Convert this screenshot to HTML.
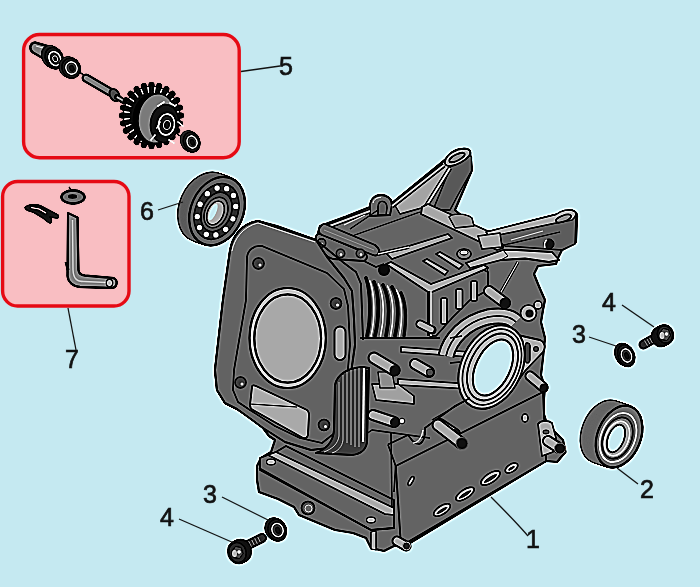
<!DOCTYPE html>
<html><head><meta charset="utf-8">
<style>
html,body{margin:0;padding:0;width:700px;height:587px;overflow:hidden;background:#c5e9f1;}
svg{display:block;position:absolute;left:0;top:0;}
text{font-family:"Liberation Sans",sans-serif;font-size:25px;fill:#111;stroke:#111;stroke-width:0.7px;}
</style></head><body>
<svg width="700" height="587" viewBox="0 0 700 587">

<defs><filter id="sh" x="-20" y="-20" width="740" height="627" filterUnits="userSpaceOnUse" color-interpolation-filters="sRGB"><feGaussianBlur in="SourceGraphic" stdDeviation="0.9" result="b"/><feComposite in="SourceGraphic" in2="b" operator="arithmetic" k1="0" k2="2.4" k3="-1.4" k4="0"/></filter></defs><g filter="url(#sh)"><rect x="-20" y="-20" width="740" height="627" fill="#c5e9f1"/><!-- ENGINE -->
<g id="engine" stroke-linejoin="round">
<path fill="#646464" stroke="#000" stroke-width="2.2" d="
M230 251 C232 238 240 224 258 221 L277 226 L316 240 L320 226 L346 216.5 L370 207 C371 200 375 195 381 195 C387 195 391 199 392 203 L447 158 C452 150 462 146 470 152 L472 170 L455 210
L462 216 L474 228 L488 232 L566 212 C572 208 578 212 577 218 L576 242 L562 250 L558 258 L556 264 L538 266 L534 274 L538 284 L541 291 L545 300 L543 310 L541 322 L545 338 L543 358 L541 375 L545 387 L543 411 L547 424 L555 432 L563 440 L565.5 452 L557 462 L546 461
L405 546 L394 546 L384 551 L371 548 L366 538 L353 533 L335 530 L299 515 L294 507 L278 499 L259 492 L257 480 L257 466 L261 458 L271 452 L275 440 L269 436 L263 428 L253 419 L237 409 L225 403 L217 390 L215 370 L223 300 Z"/>
<!-- top section -->
<g id="etop" stroke-linejoin="round">
<!-- top arm right face -->
<path fill="#585858" stroke="#000" stroke-width="1.4" d="M451 166 L467 153 L471.5 157 L471.5 171 L458 195 L450 210 L433 210 Z"/>
<!-- top arm web (light) -->
<path fill="#a3a3a3" stroke="#000" stroke-width="1.4" d="M393 202 L446 160 L450 168 L425 207 L400 214 Z"/>
<!-- rib -->
<path d="M450 168 L425 208" stroke="#000" stroke-width="4.5" fill="none"/>
<path d="M450 168 L425 208" stroke="#b8b8b8" stroke-width="2" fill="none"/>
<!-- tip top face -->
<path fill="#a0a0a0" stroke="#000" stroke-width="1.8" d="M445 161 C447 154 456 149 464 148.5 C470 148.5 472 152 469 156 C465 161 457 165 451 166 C446 166.5 444 164 445 161 Z"/>
<ellipse cx="457" cy="157.5" rx="8.5" ry="3" transform="rotate(-27 457 157.5)" fill="#8a8a8a" stroke="#000" stroke-width="1.7"/>
<!-- boss -->
<path fill="#646464" stroke="#000" stroke-width="1.8" d="M370 216 L370 206 C370 199 375 195 381 195 C387 195 392 199 392 205 L390 215 Z"/>
<path fill="#5a5a5a" stroke="#000" stroke-width="1.4" d="M378 215 L378 207 C378 203 380 201 383 201.5 C386 202 387 205 387 208 L386 215 Z"/>
<path d="M373 203 C374 199 377 197.5 381 197.5" stroke="#ccc" stroke-width="1" fill="none"/>
<!-- rail along top edge -->
<path d="M320 229.5 L370 211 M392 206 L444 165" stroke="#000" stroke-width="5" fill="none"/>
<path d="M320 229.5 L370 211 M392 206 L444 165" stroke="#a0a0a0" stroke-width="2" fill="none"/>
<!-- top plate faint lines -->
<path d="M350 229 L378 210 M352 236 L420 212" stroke="#000" stroke-width="1.2" fill="none"/>
<!-- cross bar light (upper) -->
<path fill="#a6a6a6" stroke="#000" stroke-width="1.8" d="M422 207 L428 204 L503 238 L503 248 L497 250 L421 214 Z"/>
<!-- right arm -->
<path fill="#5c5c5c" stroke="#000" stroke-width="1.4" d="M488 233 L556 216 L570 212 L576 216 L575 244 L562 250 L505 246 Z"/>
<path fill="#a9a9a9" stroke="#000" stroke-width="1.5" d="M486 232 L556 214.5 C561 210.5 569 208.5 574 211 C577 213 576 217 572 220 L556 223 L489 237 Z"/>
<ellipse cx="563.5" cy="218.5" rx="8" ry="3" transform="rotate(-20 563.5 218.5)" fill="#8a8a8a" stroke="#000" stroke-width="1.6"/>
<path d="M511 240 L543 231" stroke="#b8b8b8" stroke-width="1.2" fill="none"/>
<path d="M504 245 L560 232" stroke="#000" stroke-width="1.2" fill="none"/>
<circle cx="549" cy="244" r="5" fill="#111" stroke="#000" stroke-width="1"/>
<path d="M545 248 C544 244 545 241 547 240" stroke="#e8e8e8" stroke-width="1.4" fill="none"/>
<!-- connecting boss between bars -->
<path fill="#8c8c8c" stroke="#000" stroke-width="1.4" d="M449 217 C452 213 466 213 472 218 L474 226 L455 228 Z"/>
<path fill="#a6a6a6" stroke="#000" stroke-width="1.5" d="M478 236 L500 233 L502 247 L482 249 Z"/>
<!-- lever -->
<path fill="#b0b0b0" stroke="#000" stroke-width="1.8" d="M466 263 L503 250 L517 250 L552 252 L559 260 L549 262 L525 258.5 L501 260 L470 268 Z"/>
<path d="M503 250 L508 256 L501 260" stroke="#000" stroke-width="1" fill="none"/>
<!-- struts below lever -->
<path d="M486 266 L487 281 M518 262 L501 292" stroke="#000" stroke-width="3" fill="none"/>
<path d="M486 266 L487 281 M518 262 L501 292" stroke="#b0b0b0" stroke-width="1.2" fill="none"/>
</g>
<!-- mid section: link bar, frame box, fins -->
<g id="emid" stroke-linejoin="round">
<!-- top plate lines -->
<path d="M344 225 L365 215" stroke="#bbb" stroke-width="1.2" fill="none"/>
<!-- back bar of frame -->
<path fill="#a0a0a0" stroke="#000" stroke-width="1.6" d="M386 253 L448 234 L452 238 L392 259 Z"/>
<!-- inner bars -->
<path fill="#a8a8a8" stroke="#000" stroke-width="1.5" d="M423 261 L427 259 L448 271 L445 275 Z"/>
<path fill="#a8a8a8" stroke="#000" stroke-width="1.5" d="M436 254 L440 252 L463 265 L459 269 Z"/>
<!-- nut on top -->
<ellipse cx="464" cy="254" rx="7" ry="5" fill="#777" stroke="#000" stroke-width="1.6"/>
<ellipse cx="464" cy="252.5" rx="4" ry="2.5" fill="#bbb" stroke="#000" stroke-width="1"/>
<!-- front face of frame box -->
<path fill="#636363" stroke="#000" stroke-width="1.6" d="M430 289 L484 270 L488 272 L488 290 L470 300 L452 318 L436 336 L430 336 Z"/>
<!-- front top bar (light) -->
<path fill="#a9a9a9" stroke="#000" stroke-width="1.8" d="M386 264 L391 262 L431 284 L484 265 L488 268 L432 292 L428 292 Z"/>
<path d="M431 290 L431 336" stroke="#b8b8b8" stroke-width="1.6" fill="none"/>
<path d="M428 292 L428 336" stroke="#000" stroke-width="1.6" fill="none"/>
<!-- slots -->
<g fill="#a8a8a8" stroke="#000" stroke-width="1.6">
<rect x="441" y="298" width="6" height="26" rx="2"/>
<rect x="456" y="289" width="6.5" height="20" rx="2"/>
<rect x="471" y="281" width="6" height="20" rx="2"/>
</g>
<!-- link bar with 3 holes -->
<path fill="#606060" stroke="#000" stroke-width="1.8" d="M316 240 C315 236 317 233 321 234 L363 252 C368 254 368 259 364 261 L333 259 C329 258 326 256 323 253 Z"/>
<path fill="#646464" stroke="#000" stroke-width="1.8" d="M321 226 C318 229 318 233 322 235 L373 255 C378 257 381 252 378 248 L375 245 L325 224 C323 223.5 322 224.5 321 226 Z"/>
<path d="M324 230 L374 250" stroke="#8a8a8a" stroke-width="1" fill="none"/>
<g fill="#505050" stroke="#000" stroke-width="1.5">
<circle cx="321.5" cy="243" r="4.2"/>
<circle cx="340.5" cy="253.5" r="4.2"/>
<circle cx="360.5" cy="253.5" r="4.2"/>
</g>
<g fill="#ddd"><circle cx="322" cy="244" r="1.2"/><circle cx="341" cy="254.5" r="1.2"/><circle cx="361" cy="254.5" r="1.2"/></g>
<path d="M364 261 L376 267 L384 264" stroke="#000" stroke-width="1.4" fill="none"/>
<!-- thin lever on top plate -->
<path d="M378 254 L409 247" stroke="#000" stroke-width="3.5" fill="none"/>
<path d="M378 254 L409 247" stroke="#b0b0b0" stroke-width="1.4" fill="none"/>
<!-- flange right side thickness lines -->
<path d="M316 240 L344 263 L356 272 L361 284 L363 340" stroke="#000" stroke-width="1.8" fill="none"/>
<!-- black nut -->
<circle cx="384" cy="270" r="6" fill="#0a0a0a"/>
<!-- fins -->
<g fill="none" stroke-linecap="round">
<path d="M366 278 C371 292 371 320 367 336" stroke="#000" stroke-width="3.6"/>
<path d="M374 282 C380 296 379 320 375 336" stroke="#000" stroke-width="3.6"/>
<path d="M383 285 C391 300 389 322 386 336" stroke="#000" stroke-width="3.6"/>
<path d="M392 287 C400 301 398 322 395 336" stroke="#000" stroke-width="3.6"/>
<path d="M401 293 C407 305 406 322 404 336" stroke="#000" stroke-width="3.2"/>
<path d="M370 281 C375 294 375 320 371 336" stroke="#e8e8e8" stroke-width="1.4"/>
<path d="M378.5 284 C385 298 384 321 380.5 336" stroke="#e8e8e8" stroke-width="1.4"/>
<path d="M387.5 286 C395 300 393.5 322 390.5 336" stroke="#e8e8e8" stroke-width="1.4"/>
<path d="M396.5 290 C403.5 303 402 322 399.5 336" stroke="#e8e8e8" stroke-width="1.4"/>
</g>
<path d="M360 338 L440 338" stroke="#000" stroke-width="1.6" fill="none"/>
<!-- small pin right of fins -->
<path d="M420 324 L432 330" stroke="#000" stroke-width="9" stroke-linecap="round"/>
<path d="M420 324 L431 329.5" stroke="#a8a8a8" stroke-width="5.5" stroke-linecap="round"/>
<!-- pin near right boss -->
<path d="M489 291 L505 303" stroke="#000" stroke-width="12" stroke-linecap="round"/>
<path d="M489 291 L503 301.5" stroke="#a8a8a8" stroke-width="8" stroke-linecap="round"/>
<circle cx="505" cy="303" r="5.5" fill="#111"/>
</g>
<!-- lower mid: crank area, right bore -->
<g id="elow" stroke-linejoin="round">
<!-- horizontal light bars -->
<path fill="#a6a6a6" stroke="#000" stroke-width="1.4" d="M401 347 L470 352 L470 357 L401 352 Z"/>
<path fill="#a6a6a6" stroke="#000" stroke-width="1.4" d="M398 379 L470 384 L470 389 L398 385 Z"/>
<!-- lower light box -->
<path fill="#a0a0a0" stroke="#000" stroke-width="1.4" d="M372 384 L398 384 L414 396 L414 404 L376 400 Z"/>
<path fill="#8c8c8c" stroke="#000" stroke-width="1.2" d="M378 372 L392 372 L395 388 L380 388 Z"/>
<!-- pins -->
<path d="M374 358 L394 370" stroke="#000" stroke-width="13" stroke-linecap="round"/>
<path d="M374 358 L392.5 369" stroke="#a8a8a8" stroke-width="9" stroke-linecap="round"/>
<circle cx="395" cy="370.5" r="5.5" fill="#111"/>
<path d="M415 364 L429 372" stroke="#000" stroke-width="12" stroke-linecap="round"/>
<path d="M415 364 L428 371.5" stroke="#a8a8a8" stroke-width="8" stroke-linecap="round"/>
<circle cx="430" cy="372.5" r="3.5" fill="#444" stroke="#000" stroke-width="1.2"/>
<path d="M373 415 L394 422" stroke="#000" stroke-width="12" stroke-linecap="round"/>
<path d="M373 415 L392.5 421.5" stroke="#a8a8a8" stroke-width="8" stroke-linecap="round"/>
<circle cx="395" cy="422.5" r="5" fill="#111"/>
<circle cx="402" cy="421" r="2.8" fill="#ccc" stroke="#000" stroke-width="1"/>
<!-- lower pin (right) -->
<path d="M440 424 L455 434" stroke="#000" stroke-width="12" stroke-linecap="round"/>
<path d="M440 424 L454 433" stroke="#a8a8a8" stroke-width="8" stroke-linecap="round"/>
<circle cx="455" cy="434" r="5" fill="#111"/>
<path d="M432 420 L470 398 M360 438 L372 430 L430 438" stroke="#000" stroke-width="1.4" fill="none"/>
<!-- right bore: upper arcs -->
<path fill="none" stroke="#000" stroke-width="17" d="M446 356 C450 338 466 322 488 317 C500 315 510 316 516 322"/>
<path fill="none" stroke="#a9a9a9" stroke-width="13" d="M446 356 C450 338 466 322 488 317 C500 315 510 316 516 322"/>
<path fill="none" stroke="#000" stroke-width="1.6" d="M446 356 C450 338 466 322 488 317 C500 315 510 316 516 322"/>
<path fill="none" stroke="#000" stroke-width="1.4" d="M450 338 L462 336 M450 363 L460 362"/>
<!-- flange triangle -->
<path fill="#a9a9a9" stroke="#000" stroke-width="1.8" d="M504 332 L540 340 C545 342 546 348 543 352 L525 371 L512 389 L498 392 Z"/>
<path fill="#3a3a3a" stroke="#000" stroke-width="1.2" d="M526 343 C529 342 531 345 530 349 L530 360 C529 364 526 364 525 360 L525 347 Z"/>
<circle cx="536" cy="349" r="2.5" fill="#3a3a3a" stroke="#000" stroke-width="1"/>
<!-- bore boss ring -->
<ellipse cx="491.5" cy="367" rx="30" ry="44" transform="rotate(26 491.5 367)" fill="#a9a9a9" stroke="#000" stroke-width="2"/>
<ellipse cx="492" cy="367" rx="26.5" ry="40" transform="rotate(26 492 367)" fill="none" stroke="#000" stroke-width="1.5"/>
<ellipse cx="492.5" cy="367" rx="22.5" ry="35.5" transform="rotate(26 492.5 367)" fill="#b0b0b0" stroke="#000" stroke-width="1.8"/>
<ellipse cx="493" cy="367.5" rx="17" ry="30" transform="rotate(26 493 367.5)" fill="#c5e9f1" stroke="#000" stroke-width="2"/>
<!-- boss top right -->
<circle cx="528.5" cy="313" r="8" fill="#a9a9a9" stroke="#000" stroke-width="1.6"/>
<circle cx="529.5" cy="313.5" r="4" fill="#111"/>
<circle cx="538" cy="305" r="4" fill="#a9a9a9" stroke="#000" stroke-width="1.4"/>
<!-- pin lower right of bore -->
<path d="M530 376 L543 387" stroke="#000" stroke-width="11" stroke-linecap="round"/>
<path d="M530 376 L542 386" stroke="#a8a8a8" stroke-width="7" stroke-linecap="round"/>
<circle cx="544" cy="388" r="4.5" fill="#111"/>
</g>
<!-- lower body, right plate, base plate -->
<g id="ebase" stroke-linejoin="round">
<!-- body lines with notch -->
<path fill="none" stroke="#000" stroke-width="1.6" d="M388 444.5 L408 435 C412 440 414 444 419 444 C423 443 426 436 425 428 L455 406 L470 398"/>
<path fill="none" stroke="#ddd" stroke-width="1.2" d="M413 443 C418 443 422 438 423 430"/>
<!-- right plate -->
<path fill="#636363" stroke="#000" stroke-width="1.8" d="M395.7 466 L543 392 L546 461 L401 546 Z"/>
<path fill="none" stroke="#000" stroke-width="1.6" d="M388 444.5 L395.7 466 L394 492"/>
<!-- oval slots -->
<g fill="#a8a8a8" stroke="#000" stroke-width="1.6">
<ellipse cx="442" cy="510" rx="9.5" ry="4.2" transform="rotate(-33 442 510)"/>
<ellipse cx="465" cy="494" rx="10.5" ry="4.4" transform="rotate(-33 465 494)"/>
<ellipse cx="490.5" cy="478" rx="11" ry="4.6" transform="rotate(-33 490.5 478)"/>
<ellipse cx="511.5" cy="468" rx="7" ry="3.8" transform="rotate(-33 511.5 468)"/>
</g>
<g fill="#2e2e2e" stroke="#d0d0d0" stroke-width="0.8">
<ellipse cx="442" cy="510.5" rx="7" ry="2" transform="rotate(-33 442 510.5)"/>
<ellipse cx="465" cy="494.5" rx="8" ry="2.2" transform="rotate(-33 465 494.5)"/>
<ellipse cx="490.5" cy="478.5" rx="8.5" ry="2.3" transform="rotate(-33 490.5 478.5)"/>
<ellipse cx="511.5" cy="468.3" rx="4.5" ry="1.8" transform="rotate(-33 511.5 468.3)"/>
</g>
<ellipse cx="525" cy="418" rx="3" ry="4" fill="#a8a8a8" stroke="#000" stroke-width="1.4"/>
<ellipse cx="411" cy="481" rx="1.8" ry="5" transform="rotate(30 411 481)" fill="#a8a8a8" stroke="#000" stroke-width="1.4"/>
<!-- pin on body -->
<path d="M438 425 L461 443" stroke="#000" stroke-width="13" stroke-linecap="round"/>
<path d="M438 425 L460 442" stroke="#a8a8a8" stroke-width="9" stroke-linecap="round"/>
<circle cx="462" cy="443.5" r="6" fill="#111" stroke="#555" stroke-width="1"/>
<!-- right bracket + pin -->
<path fill="#a8a8a8" stroke="#000" stroke-width="1.6" d="M538 424 C541 420 548 420 552 423 L556 438 L553 452 L542 456 Z"/>
<ellipse cx="546" cy="432" rx="3" ry="2" fill="#444" stroke="#000" stroke-width="1"/>
<path d="M548 441 L559 448" stroke="#000" stroke-width="12" stroke-linecap="round"/>
<path d="M548 441 L558 447.5" stroke="#a8a8a8" stroke-width="8" stroke-linecap="round"/>
<circle cx="560" cy="448.5" r="5.5" fill="#111" stroke="#666" stroke-width="1"/>
<!-- base plate -->
<path fill="#636363" stroke="#000" stroke-width="1.8" d="M260 458 L276 452 L286 446 L394 500 L394 528 L371 530 L260 470 Z"/>
<path fill="#a8a8a8" stroke="#000" stroke-width="1.5" d="M268 455 L276 452 L394 508 L394 515 L385 514 Z"/>
<path fill="none" stroke="#000" stroke-width="1.6" d="M259 468 L371 530 L394 528"/>
<ellipse cx="271" cy="462" rx="4.5" ry="2.8" fill="#b0b0b0" stroke="#000" stroke-width="1.2"/>
<ellipse cx="371" cy="520" rx="4.5" ry="2.8" fill="#b0b0b0" stroke="#000" stroke-width="1.2"/>
<!-- boss on base front -->
<circle cx="308" cy="508" r="6.5" fill="#4a4a4a" stroke="#000" stroke-width="1.6"/>
<circle cx="308.5" cy="508.5" r="3.5" fill="#666" stroke="#ccc" stroke-width="0.8"/>
<!-- vertical light strip corner -->
<path fill="#a8a8a8" stroke="#000" stroke-width="1.2" d="M371 532 L376 531 L376 550 L371 549 Z"/>
<!-- corner pin -->
<path d="M397 541 L406 546" stroke="#000" stroke-width="11" stroke-linecap="round"/>
<path d="M397 541 L405 545.5" stroke="#a8a8a8" stroke-width="7" stroke-linecap="round"/>
<circle cx="406.5" cy="546" r="4" fill="#222" stroke="#999" stroke-width="1"/>
<!-- vertical edge line body/base -->
<path d="M391 432 L392 508" stroke="#000" stroke-width="1.4" fill="none"/>
</g>
<!-- flange plate -->
<g id="flange">
<path fill="#626262" stroke="#000" stroke-width="2" d="M230 251 C232 238 240 224 258 221 L316 240 L327 257 L344 278 L352 291 L354 319 L355 345 L350 380 L345 410 L341 436 L329 448 L311 450 L285 442 L263 428 L237 409 L225 403 L217 390 L215 370 L223 300 Z"/>
<path fill="none" stroke="#fff" stroke-width="0.8" opacity="0.7" d="M232 251 C234 240 242 227 258 223 L315 242"/>
<path fill="none" stroke="#000" stroke-width="1.6" d="M246 300 L247 257 C248 250 254 245 262 246 L327 273 L344 289 L348 306 L350 345 L347 380 L343 410 L336 432 L322 443 L300 438 L275 426 L250 410 L238 402 L233 390 L234 370 L246 300"/>
<!-- bore -->
<ellipse cx="287.7" cy="338" rx="38.2" ry="50" fill="#b4b4b4" stroke="#000" stroke-width="2.2"/>
<ellipse cx="287.7" cy="338.5" rx="33.4" ry="44.2" fill="#a8a8a8" stroke="#000" stroke-width="2.2"/>
<!-- bolt holes -->
<g fill="#3a3a3a" stroke="#000" stroke-width="1.5">
<circle cx="258.5" cy="263.5" r="5.5"/>
<circle cx="336" cy="303.5" r="5.5"/>
<circle cx="240.5" cy="382.5" r="5.5"/>
<circle cx="324" cy="425" r="5.5"/>
</g>
<g fill="#ddd" opacity="0.8">
<circle cx="260" cy="265" r="1.5"/>
<circle cx="337.5" cy="305" r="1.5"/>
<circle cx="242" cy="384" r="1.5"/>
<circle cx="325.5" cy="426.5" r="1.5"/>
</g>
<!-- oval slot -->
<rect x="334.5" y="326.5" width="11" height="33.5" rx="5.5" fill="#a9a9a9" stroke="#000" stroke-width="1.8"/>
<!-- lower slot -->
<path fill="#a9a9a9" stroke="#000" stroke-width="1.8" d="M252 387 C252 385 254 385 256 386 L305 409 C308 410 309 412 309 415 L308 434 C308 437 306 439 303 438 L253 410 C251 409 250 407 250 405 Z"/>
<path fill="none" stroke="#000" stroke-width="1" d="M250 404 L297 407"/>
</g>
<!-- lower flange (cylinder cover) -->
<path fill="#3a3a3a" stroke="#000" stroke-width="2" d="M335 385 C337 374 348 368 362 367 L369 368 L367 442 C366 450 361 454 352 455 L316 453 C326 449 333 443 334 430 Z"/>
<g stroke="#a0a0a0" stroke-width="0.9" fill="none">
<path d="M339 382 L339 436 C338 444 332 449 324 452"/><path d="M343 375 L343 440 C342 447 338 451 332 453"/><path d="M347 372 L347 443"/><path d="M351 370 L351 445"/><path d="M355 369 L355 447"/><path d="M359 368 L359 447"/>
</g>
<path d="M364 368 L363 442" stroke="#e0e0e0" stroke-width="2.2" fill="none"/>
<path d="M367 370 L367 442" stroke="#000" stroke-width="1.4" fill="none"/>

</g>
<ellipse cx="206.00" cy="207.00" rx="26" ry="35.5" transform="rotate(24 206.00 207.00)" fill="#000" stroke="#000" stroke-width="2.4"/>
<ellipse cx="206.65" cy="207.24" rx="26" ry="35.5" transform="rotate(24 206.65 207.24)" fill="#000" stroke="#000" stroke-width="2.4"/>
<ellipse cx="207.29" cy="207.47" rx="26" ry="35.5" transform="rotate(24 207.29 207.47)" fill="#000" stroke="#000" stroke-width="2.4"/>
<ellipse cx="207.94" cy="207.71" rx="26" ry="35.5" transform="rotate(24 207.94 207.71)" fill="#000" stroke="#000" stroke-width="2.4"/>
<ellipse cx="208.59" cy="207.94" rx="26" ry="35.5" transform="rotate(24 208.59 207.94)" fill="#000" stroke="#000" stroke-width="2.4"/>
<ellipse cx="209.24" cy="208.18" rx="26" ry="35.5" transform="rotate(24 209.24 208.18)" fill="#000" stroke="#000" stroke-width="2.4"/>
<ellipse cx="209.88" cy="208.41" rx="26" ry="35.5" transform="rotate(24 209.88 208.41)" fill="#000" stroke="#000" stroke-width="2.4"/>
<ellipse cx="210.53" cy="208.65" rx="26" ry="35.5" transform="rotate(24 210.53 208.65)" fill="#000" stroke="#000" stroke-width="2.4"/>
<ellipse cx="211.18" cy="208.88" rx="26" ry="35.5" transform="rotate(24 211.18 208.88)" fill="#000" stroke="#000" stroke-width="2.4"/>
<ellipse cx="211.82" cy="209.12" rx="26" ry="35.5" transform="rotate(24 211.82 209.12)" fill="#000" stroke="#000" stroke-width="2.4"/>
<ellipse cx="212.47" cy="209.35" rx="26" ry="35.5" transform="rotate(24 212.47 209.35)" fill="#000" stroke="#000" stroke-width="2.4"/>
<ellipse cx="213.12" cy="209.59" rx="26" ry="35.5" transform="rotate(24 213.12 209.59)" fill="#000" stroke="#000" stroke-width="2.4"/>
<ellipse cx="213.76" cy="209.82" rx="26" ry="35.5" transform="rotate(24 213.76 209.82)" fill="#000" stroke="#000" stroke-width="2.4"/>
<ellipse cx="214.41" cy="210.06" rx="26" ry="35.5" transform="rotate(24 214.41 210.06)" fill="#000" stroke="#000" stroke-width="2.4"/>
<ellipse cx="215.06" cy="210.29" rx="26" ry="35.5" transform="rotate(24 215.06 210.29)" fill="#000" stroke="#000" stroke-width="2.4"/>
<ellipse cx="215.71" cy="210.53" rx="26" ry="35.5" transform="rotate(24 215.71 210.53)" fill="#000" stroke="#000" stroke-width="2.4"/>
<ellipse cx="216.35" cy="210.76" rx="26" ry="35.5" transform="rotate(24 216.35 210.76)" fill="#000" stroke="#000" stroke-width="2.4"/>
<ellipse cx="217.00" cy="211.00" rx="26" ry="35.5" transform="rotate(24 217.00 211.00)" fill="#000" stroke="#000" stroke-width="2.4"/>
<ellipse cx="206.00" cy="207.00" rx="26" ry="35.5" transform="rotate(24 206.00 207.00)" fill="#5a5a5a"/>
<ellipse cx="206.65" cy="207.24" rx="26" ry="35.5" transform="rotate(24 206.65 207.24)" fill="#5a5a5a"/>
<ellipse cx="207.29" cy="207.47" rx="26" ry="35.5" transform="rotate(24 207.29 207.47)" fill="#5a5a5a"/>
<ellipse cx="207.94" cy="207.71" rx="26" ry="35.5" transform="rotate(24 207.94 207.71)" fill="#5a5a5a"/>
<ellipse cx="208.59" cy="207.94" rx="26" ry="35.5" transform="rotate(24 208.59 207.94)" fill="#5a5a5a"/>
<ellipse cx="209.24" cy="208.18" rx="26" ry="35.5" transform="rotate(24 209.24 208.18)" fill="#5a5a5a"/>
<ellipse cx="209.88" cy="208.41" rx="26" ry="35.5" transform="rotate(24 209.88 208.41)" fill="#5a5a5a"/>
<ellipse cx="210.53" cy="208.65" rx="26" ry="35.5" transform="rotate(24 210.53 208.65)" fill="#5a5a5a"/>
<ellipse cx="211.18" cy="208.88" rx="26" ry="35.5" transform="rotate(24 211.18 208.88)" fill="#5a5a5a"/>
<ellipse cx="211.82" cy="209.12" rx="26" ry="35.5" transform="rotate(24 211.82 209.12)" fill="#5a5a5a"/>
<ellipse cx="212.47" cy="209.35" rx="26" ry="35.5" transform="rotate(24 212.47 209.35)" fill="#5a5a5a"/>
<ellipse cx="213.12" cy="209.59" rx="26" ry="35.5" transform="rotate(24 213.12 209.59)" fill="#5a5a5a"/>
<ellipse cx="213.76" cy="209.82" rx="26" ry="35.5" transform="rotate(24 213.76 209.82)" fill="#5a5a5a"/>
<ellipse cx="214.41" cy="210.06" rx="26" ry="35.5" transform="rotate(24 214.41 210.06)" fill="#5a5a5a"/>
<ellipse cx="215.06" cy="210.29" rx="26" ry="35.5" transform="rotate(24 215.06 210.29)" fill="#5a5a5a"/>
<ellipse cx="215.71" cy="210.53" rx="26" ry="35.5" transform="rotate(24 215.71 210.53)" fill="#5a5a5a"/>
<ellipse cx="216.35" cy="210.76" rx="26" ry="35.5" transform="rotate(24 216.35 210.76)" fill="#5a5a5a"/>
<ellipse cx="217.00" cy="211.00" rx="26" ry="35.5" transform="rotate(24 217.00 211.00)" fill="#5a5a5a"/>
<ellipse cx="217.0" cy="211.0" rx="26" ry="35.5" transform="rotate(24 217.0 211.0)" fill="#5e5e5e" stroke="#000" stroke-width="2.2" />
<ellipse cx="216.5" cy="211.5" rx="21" ry="29" transform="rotate(24 216.5 211.5)" fill="#2a2a2a" stroke="#000" stroke-width="1.5" />
<circle cx="232.9" cy="218.8" r="2.6" fill="#e6e6e6"/>
<circle cx="225.7" cy="229.3" r="2.6" fill="#e6e6e6"/>
<circle cx="215.9" cy="234.9" r="2.6" fill="#e6e6e6"/>
<circle cx="206.3" cy="234.3" r="2.6" fill="#e6e6e6"/>
<circle cx="199.5" cy="227.6" r="2.6" fill="#e6e6e6"/>
<circle cx="197.2" cy="216.6" r="2.6" fill="#e6e6e6"/>
<circle cx="200.1" cy="204.2" r="2.6" fill="#e6e6e6"/>
<circle cx="207.3" cy="193.7" r="2.6" fill="#e6e6e6"/>
<circle cx="217.1" cy="188.1" r="2.6" fill="#e6e6e6"/>
<circle cx="226.7" cy="188.7" r="2.6" fill="#e6e6e6"/>
<circle cx="233.5" cy="195.4" r="2.6" fill="#e6e6e6"/>
<circle cx="235.8" cy="206.4" r="2.6" fill="#e6e6e6"/>
<ellipse cx="216.5" cy="212.0" rx="14.5" ry="20.5" transform="rotate(24 216.5 212.0)" fill="#4a4a4a" stroke="#000" stroke-width="1.6" />
<ellipse cx="216.0" cy="212.5" rx="11" ry="16" transform="rotate(24 216.0 212.5)" fill="#6a6a6a" stroke="#000" stroke-width="1.4" />
<ellipse cx="215.5" cy="213.0" rx="8" ry="12.5" transform="rotate(24 215.5 213.0)" fill="#a8a8a8" stroke="#000" stroke-width="1.4" />
<ellipse cx="213.0" cy="212.0" rx="3.2" ry="9" transform="rotate(24 213.0 212.0)" fill="#c5e9f1" stroke="none" stroke-width="0" /><ellipse cx="604.00" cy="431.50" rx="21.5" ry="32" transform="rotate(22 604.00 431.50)" fill="#000" stroke="#000" stroke-width="2.4"/>
<ellipse cx="604.65" cy="431.72" rx="21.5" ry="32" transform="rotate(22 604.65 431.72)" fill="#000" stroke="#000" stroke-width="2.4"/>
<ellipse cx="605.30" cy="431.93" rx="21.5" ry="32" transform="rotate(22 605.30 431.93)" fill="#000" stroke="#000" stroke-width="2.4"/>
<ellipse cx="605.96" cy="432.15" rx="21.5" ry="32" transform="rotate(22 605.96 432.15)" fill="#000" stroke="#000" stroke-width="2.4"/>
<ellipse cx="606.61" cy="432.37" rx="21.5" ry="32" transform="rotate(22 606.61 432.37)" fill="#000" stroke="#000" stroke-width="2.4"/>
<ellipse cx="607.26" cy="432.59" rx="21.5" ry="32" transform="rotate(22 607.26 432.59)" fill="#000" stroke="#000" stroke-width="2.4"/>
<ellipse cx="607.91" cy="432.80" rx="21.5" ry="32" transform="rotate(22 607.91 432.80)" fill="#000" stroke="#000" stroke-width="2.4"/>
<ellipse cx="608.57" cy="433.02" rx="21.5" ry="32" transform="rotate(22 608.57 433.02)" fill="#000" stroke="#000" stroke-width="2.4"/>
<ellipse cx="609.22" cy="433.24" rx="21.5" ry="32" transform="rotate(22 609.22 433.24)" fill="#000" stroke="#000" stroke-width="2.4"/>
<ellipse cx="609.87" cy="433.46" rx="21.5" ry="32" transform="rotate(22 609.87 433.46)" fill="#000" stroke="#000" stroke-width="2.4"/>
<ellipse cx="610.52" cy="433.67" rx="21.5" ry="32" transform="rotate(22 610.52 433.67)" fill="#000" stroke="#000" stroke-width="2.4"/>
<ellipse cx="611.17" cy="433.89" rx="21.5" ry="32" transform="rotate(22 611.17 433.89)" fill="#000" stroke="#000" stroke-width="2.4"/>
<ellipse cx="611.83" cy="434.11" rx="21.5" ry="32" transform="rotate(22 611.83 434.11)" fill="#000" stroke="#000" stroke-width="2.4"/>
<ellipse cx="612.48" cy="434.33" rx="21.5" ry="32" transform="rotate(22 612.48 434.33)" fill="#000" stroke="#000" stroke-width="2.4"/>
<ellipse cx="613.13" cy="434.54" rx="21.5" ry="32" transform="rotate(22 613.13 434.54)" fill="#000" stroke="#000" stroke-width="2.4"/>
<ellipse cx="613.78" cy="434.76" rx="21.5" ry="32" transform="rotate(22 613.78 434.76)" fill="#000" stroke="#000" stroke-width="2.4"/>
<ellipse cx="614.43" cy="434.98" rx="21.5" ry="32" transform="rotate(22 614.43 434.98)" fill="#000" stroke="#000" stroke-width="2.4"/>
<ellipse cx="615.09" cy="435.20" rx="21.5" ry="32" transform="rotate(22 615.09 435.20)" fill="#000" stroke="#000" stroke-width="2.4"/>
<ellipse cx="615.74" cy="435.41" rx="21.5" ry="32" transform="rotate(22 615.74 435.41)" fill="#000" stroke="#000" stroke-width="2.4"/>
<ellipse cx="616.39" cy="435.63" rx="21.5" ry="32" transform="rotate(22 616.39 435.63)" fill="#000" stroke="#000" stroke-width="2.4"/>
<ellipse cx="617.04" cy="435.85" rx="21.5" ry="32" transform="rotate(22 617.04 435.85)" fill="#000" stroke="#000" stroke-width="2.4"/>
<ellipse cx="617.70" cy="436.07" rx="21.5" ry="32" transform="rotate(22 617.70 436.07)" fill="#000" stroke="#000" stroke-width="2.4"/>
<ellipse cx="618.35" cy="436.28" rx="21.5" ry="32" transform="rotate(22 618.35 436.28)" fill="#000" stroke="#000" stroke-width="2.4"/>
<ellipse cx="619.00" cy="436.50" rx="21.5" ry="32" transform="rotate(22 619.00 436.50)" fill="#000" stroke="#000" stroke-width="2.4"/>
<ellipse cx="604.00" cy="431.50" rx="21.5" ry="32" transform="rotate(22 604.00 431.50)" fill="#646464"/>
<ellipse cx="604.65" cy="431.72" rx="21.5" ry="32" transform="rotate(22 604.65 431.72)" fill="#646464"/>
<ellipse cx="605.30" cy="431.93" rx="21.5" ry="32" transform="rotate(22 605.30 431.93)" fill="#646464"/>
<ellipse cx="605.96" cy="432.15" rx="21.5" ry="32" transform="rotate(22 605.96 432.15)" fill="#646464"/>
<ellipse cx="606.61" cy="432.37" rx="21.5" ry="32" transform="rotate(22 606.61 432.37)" fill="#646464"/>
<ellipse cx="607.26" cy="432.59" rx="21.5" ry="32" transform="rotate(22 607.26 432.59)" fill="#646464"/>
<ellipse cx="607.91" cy="432.80" rx="21.5" ry="32" transform="rotate(22 607.91 432.80)" fill="#646464"/>
<ellipse cx="608.57" cy="433.02" rx="21.5" ry="32" transform="rotate(22 608.57 433.02)" fill="#646464"/>
<ellipse cx="609.22" cy="433.24" rx="21.5" ry="32" transform="rotate(22 609.22 433.24)" fill="#646464"/>
<ellipse cx="609.87" cy="433.46" rx="21.5" ry="32" transform="rotate(22 609.87 433.46)" fill="#646464"/>
<ellipse cx="610.52" cy="433.67" rx="21.5" ry="32" transform="rotate(22 610.52 433.67)" fill="#646464"/>
<ellipse cx="611.17" cy="433.89" rx="21.5" ry="32" transform="rotate(22 611.17 433.89)" fill="#646464"/>
<ellipse cx="611.83" cy="434.11" rx="21.5" ry="32" transform="rotate(22 611.83 434.11)" fill="#646464"/>
<ellipse cx="612.48" cy="434.33" rx="21.5" ry="32" transform="rotate(22 612.48 434.33)" fill="#646464"/>
<ellipse cx="613.13" cy="434.54" rx="21.5" ry="32" transform="rotate(22 613.13 434.54)" fill="#646464"/>
<ellipse cx="613.78" cy="434.76" rx="21.5" ry="32" transform="rotate(22 613.78 434.76)" fill="#646464"/>
<ellipse cx="614.43" cy="434.98" rx="21.5" ry="32" transform="rotate(22 614.43 434.98)" fill="#646464"/>
<ellipse cx="615.09" cy="435.20" rx="21.5" ry="32" transform="rotate(22 615.09 435.20)" fill="#646464"/>
<ellipse cx="615.74" cy="435.41" rx="21.5" ry="32" transform="rotate(22 615.74 435.41)" fill="#646464"/>
<ellipse cx="616.39" cy="435.63" rx="21.5" ry="32" transform="rotate(22 616.39 435.63)" fill="#646464"/>
<ellipse cx="617.04" cy="435.85" rx="21.5" ry="32" transform="rotate(22 617.04 435.85)" fill="#646464"/>
<ellipse cx="617.70" cy="436.07" rx="21.5" ry="32" transform="rotate(22 617.70 436.07)" fill="#646464"/>
<ellipse cx="618.35" cy="436.28" rx="21.5" ry="32" transform="rotate(22 618.35 436.28)" fill="#646464"/>
<ellipse cx="619.00" cy="436.50" rx="21.5" ry="32" transform="rotate(22 619.00 436.50)" fill="#646464"/>
<ellipse cx="619.0" cy="436.5" rx="21.5" ry="32" transform="rotate(22 619.0 436.5)" fill="#6a6a6a" stroke="#000" stroke-width="2.2" />
<ellipse cx="618.0" cy="437.5" rx="17" ry="25.5" transform="rotate(22 618.0 437.5)" fill="#5a5a5a" stroke="#f0f0f0" stroke-width="1.6" />
<ellipse cx="617.5" cy="438.0" rx="14" ry="21.5" transform="rotate(22 617.5 438.0)" fill="#7a7a7a" stroke="#000" stroke-width="1.6" />
<ellipse cx="617.0" cy="438.5" rx="11.5" ry="18" transform="rotate(22 617.0 438.5)" fill="#9a9a9a" stroke="#f0f0f0" stroke-width="1.4" />
<ellipse cx="616.0" cy="438.5" rx="8" ry="14.5" transform="rotate(22 616.0 438.5)" fill="#c5e9f1" stroke="#000" stroke-width="1.8" /><ellipse cx="623.50" cy="354.50" rx="8" ry="11" transform="rotate(-22 623.50 354.50)" fill="#000" stroke="#000" stroke-width="2.0"/>
<ellipse cx="624.12" cy="354.75" rx="8" ry="11" transform="rotate(-22 624.12 354.75)" fill="#000" stroke="#000" stroke-width="2.0"/>
<ellipse cx="624.75" cy="355.00" rx="8" ry="11" transform="rotate(-22 624.75 355.00)" fill="#000" stroke="#000" stroke-width="2.0"/>
<ellipse cx="625.38" cy="355.25" rx="8" ry="11" transform="rotate(-22 625.38 355.25)" fill="#000" stroke="#000" stroke-width="2.0"/>
<ellipse cx="626.00" cy="355.50" rx="8" ry="11" transform="rotate(-22 626.00 355.50)" fill="#000" stroke="#000" stroke-width="2.0"/>
<ellipse cx="623.50" cy="354.50" rx="8" ry="11" transform="rotate(-22 623.50 354.50)" fill="#1a1a1a"/>
<ellipse cx="624.12" cy="354.75" rx="8" ry="11" transform="rotate(-22 624.12 354.75)" fill="#1a1a1a"/>
<ellipse cx="624.75" cy="355.00" rx="8" ry="11" transform="rotate(-22 624.75 355.00)" fill="#1a1a1a"/>
<ellipse cx="625.38" cy="355.25" rx="8" ry="11" transform="rotate(-22 625.38 355.25)" fill="#1a1a1a"/>
<ellipse cx="626.00" cy="355.50" rx="8" ry="11" transform="rotate(-22 626.00 355.50)" fill="#1a1a1a"/>
<ellipse cx="626" cy="355.5" rx="8" ry="11" transform="rotate(-22 626 355.5)" fill="#1a1a1a" stroke="#000" stroke-width="1.5" />
<ellipse cx="626.5" cy="355.5" rx="4.96" ry="6.82" transform="rotate(-22 626.5 355.5)" fill="#3a3a3a" stroke="#dcdcdc" stroke-width="1.1" />
<ellipse cx="626.8" cy="355.8" rx="2.4" ry="3.8499999999999996" transform="rotate(-22 626.8 355.8)" fill="#101010" stroke="none" stroke-width="0" />
<ellipse cx="274.50" cy="529.00" rx="9" ry="10.8" transform="rotate(-18 274.50 529.00)" fill="#000" stroke="#000" stroke-width="2.0"/>
<ellipse cx="275.12" cy="529.25" rx="9" ry="10.8" transform="rotate(-18 275.12 529.25)" fill="#000" stroke="#000" stroke-width="2.0"/>
<ellipse cx="275.75" cy="529.50" rx="9" ry="10.8" transform="rotate(-18 275.75 529.50)" fill="#000" stroke="#000" stroke-width="2.0"/>
<ellipse cx="276.38" cy="529.75" rx="9" ry="10.8" transform="rotate(-18 276.38 529.75)" fill="#000" stroke="#000" stroke-width="2.0"/>
<ellipse cx="277.00" cy="530.00" rx="9" ry="10.8" transform="rotate(-18 277.00 530.00)" fill="#000" stroke="#000" stroke-width="2.0"/>
<ellipse cx="274.50" cy="529.00" rx="9" ry="10.8" transform="rotate(-18 274.50 529.00)" fill="#1a1a1a"/>
<ellipse cx="275.12" cy="529.25" rx="9" ry="10.8" transform="rotate(-18 275.12 529.25)" fill="#1a1a1a"/>
<ellipse cx="275.75" cy="529.50" rx="9" ry="10.8" transform="rotate(-18 275.75 529.50)" fill="#1a1a1a"/>
<ellipse cx="276.38" cy="529.75" rx="9" ry="10.8" transform="rotate(-18 276.38 529.75)" fill="#1a1a1a"/>
<ellipse cx="277.00" cy="530.00" rx="9" ry="10.8" transform="rotate(-18 277.00 530.00)" fill="#1a1a1a"/>
<ellipse cx="277.0" cy="530.0" rx="9" ry="10.8" transform="rotate(-18 277.0 530.0)" fill="#1a1a1a" stroke="#000" stroke-width="1.5" />
<ellipse cx="277.5" cy="530.0" rx="5.58" ry="6.696000000000001" transform="rotate(-18 277.5 530.0)" fill="#3a3a3a" stroke="#dcdcdc" stroke-width="1.1" />
<ellipse cx="277.8" cy="530.3" rx="2.6999999999999997" ry="3.78" transform="rotate(-18 277.8 530.3)" fill="#101010" stroke="none" stroke-width="0" />
<path d="M247 545.5 L262 538" stroke="#000" stroke-width="10" stroke-linecap="round"/>
<path d="M247 545.5 L262 538" stroke="#262626" stroke-width="6" stroke-linecap="round"/>
<path d="M251.3 546.7 L248.7 541.3" stroke="#777" stroke-width="1"/>
<path d="M254.3 545.2 L251.7 539.8" stroke="#777" stroke-width="1"/>
<path d="M257.3 543.7 L254.7 538.3" stroke="#777" stroke-width="1"/>
<path d="M260.3 542.2 L257.7 536.8" stroke="#777" stroke-width="1"/>
<ellipse cx="241.50" cy="550.50" rx="9.35" ry="11" transform="rotate(-20 241.50 550.50)" fill="#000" stroke="#000" stroke-width="2.0"/>
<ellipse cx="240.83" cy="550.83" rx="9.35" ry="11" transform="rotate(-20 240.83 550.83)" fill="#000" stroke="#000" stroke-width="2.0"/>
<ellipse cx="240.17" cy="551.17" rx="9.35" ry="11" transform="rotate(-20 240.17 551.17)" fill="#000" stroke="#000" stroke-width="2.0"/>
<ellipse cx="239.50" cy="551.50" rx="9.35" ry="11" transform="rotate(-20 239.50 551.50)" fill="#000" stroke="#000" stroke-width="2.0"/>
<ellipse cx="238.83" cy="551.83" rx="9.35" ry="11" transform="rotate(-20 238.83 551.83)" fill="#000" stroke="#000" stroke-width="2.0"/>
<ellipse cx="238.17" cy="552.17" rx="9.35" ry="11" transform="rotate(-20 238.17 552.17)" fill="#000" stroke="#000" stroke-width="2.0"/>
<ellipse cx="237.50" cy="552.50" rx="9.35" ry="11" transform="rotate(-20 237.50 552.50)" fill="#000" stroke="#000" stroke-width="2.0"/>
<ellipse cx="241.50" cy="550.50" rx="9.35" ry="11" transform="rotate(-20 241.50 550.50)" fill="#111"/>
<ellipse cx="240.83" cy="550.83" rx="9.35" ry="11" transform="rotate(-20 240.83 550.83)" fill="#111"/>
<ellipse cx="240.17" cy="551.17" rx="9.35" ry="11" transform="rotate(-20 240.17 551.17)" fill="#111"/>
<ellipse cx="239.50" cy="551.50" rx="9.35" ry="11" transform="rotate(-20 239.50 551.50)" fill="#111"/>
<ellipse cx="238.83" cy="551.83" rx="9.35" ry="11" transform="rotate(-20 238.83 551.83)" fill="#111"/>
<ellipse cx="238.17" cy="552.17" rx="9.35" ry="11" transform="rotate(-20 238.17 552.17)" fill="#111"/>
<ellipse cx="237.50" cy="552.50" rx="9.35" ry="11" transform="rotate(-20 237.50 552.50)" fill="#111"/>
<ellipse cx="237.5" cy="552.5" rx="8.58" ry="10.120000000000001" transform="rotate(-20 237.5 552.5)" fill="#222" stroke="#000" stroke-width="1.5" />
<polygon points="232.0,551.5 235.5,546.5 241.0,547.5 243.0,553.5 239.5,558.5 234.0,557.5" fill="#4a4a4a" stroke="#000" stroke-width="1"/>
<ellipse cx="234.5" cy="553.5" rx="2.5" ry="3.5" fill="#b0b0b0"/>
<circle cx="239.0" cy="552.0" r="1.8" fill="#e0e0e0"/>
<path d="M643.5 344.5 L656 337.5" stroke="#000" stroke-width="10" stroke-linecap="round"/>
<path d="M643.5 344.5 L656 337.5" stroke="#262626" stroke-width="6" stroke-linecap="round"/>
<path d="M647.5 345.7 L644.5 340.5" stroke="#777" stroke-width="1"/>
<path d="M650.0 344.3 L647.0 339.1" stroke="#777" stroke-width="1"/>
<path d="M652.5 342.9 L649.5 337.7" stroke="#777" stroke-width="1"/>
<path d="M655.0 341.5 L652.0 336.3" stroke="#777" stroke-width="1"/>
<ellipse cx="660.00" cy="337.00" rx="8.075" ry="9.5" transform="rotate(-20 660.00 337.00)" fill="#000" stroke="#000" stroke-width="2.0"/>
<ellipse cx="660.62" cy="336.69" rx="8.075" ry="9.5" transform="rotate(-20 660.62 336.69)" fill="#000" stroke="#000" stroke-width="2.0"/>
<ellipse cx="661.25" cy="336.38" rx="8.075" ry="9.5" transform="rotate(-20 661.25 336.38)" fill="#000" stroke="#000" stroke-width="2.0"/>
<ellipse cx="661.88" cy="336.06" rx="8.075" ry="9.5" transform="rotate(-20 661.88 336.06)" fill="#000" stroke="#000" stroke-width="2.0"/>
<ellipse cx="662.50" cy="335.75" rx="8.075" ry="9.5" transform="rotate(-20 662.50 335.75)" fill="#000" stroke="#000" stroke-width="2.0"/>
<ellipse cx="663.12" cy="335.44" rx="8.075" ry="9.5" transform="rotate(-20 663.12 335.44)" fill="#000" stroke="#000" stroke-width="2.0"/>
<ellipse cx="663.75" cy="335.12" rx="8.075" ry="9.5" transform="rotate(-20 663.75 335.12)" fill="#000" stroke="#000" stroke-width="2.0"/>
<ellipse cx="664.38" cy="334.81" rx="8.075" ry="9.5" transform="rotate(-20 664.38 334.81)" fill="#000" stroke="#000" stroke-width="2.0"/>
<ellipse cx="665.00" cy="334.50" rx="8.075" ry="9.5" transform="rotate(-20 665.00 334.50)" fill="#000" stroke="#000" stroke-width="2.0"/>
<ellipse cx="660.00" cy="337.00" rx="8.075" ry="9.5" transform="rotate(-20 660.00 337.00)" fill="#111"/>
<ellipse cx="660.62" cy="336.69" rx="8.075" ry="9.5" transform="rotate(-20 660.62 336.69)" fill="#111"/>
<ellipse cx="661.25" cy="336.38" rx="8.075" ry="9.5" transform="rotate(-20 661.25 336.38)" fill="#111"/>
<ellipse cx="661.88" cy="336.06" rx="8.075" ry="9.5" transform="rotate(-20 661.88 336.06)" fill="#111"/>
<ellipse cx="662.50" cy="335.75" rx="8.075" ry="9.5" transform="rotate(-20 662.50 335.75)" fill="#111"/>
<ellipse cx="663.12" cy="335.44" rx="8.075" ry="9.5" transform="rotate(-20 663.12 335.44)" fill="#111"/>
<ellipse cx="663.75" cy="335.12" rx="8.075" ry="9.5" transform="rotate(-20 663.75 335.12)" fill="#111"/>
<ellipse cx="664.38" cy="334.81" rx="8.075" ry="9.5" transform="rotate(-20 664.38 334.81)" fill="#111"/>
<ellipse cx="665.00" cy="334.50" rx="8.075" ry="9.5" transform="rotate(-20 665.00 334.50)" fill="#111"/>
<ellipse cx="665" cy="334.5" rx="7.41" ry="8.74" transform="rotate(-20 665 334.5)" fill="#222" stroke="#000" stroke-width="1.5" />
<polygon points="659.5,333.5 663,328.5 668.5,329.5 670.5,335.5 667,340.5 661.5,339.5" fill="#4a4a4a" stroke="#000" stroke-width="1"/>
<ellipse cx="662" cy="335.5" rx="2.5" ry="3.5" fill="#b0b0b0"/>
<circle cx="666.5" cy="334.0" r="1.8" fill="#e0e0e0"/></g><!-- BOX 5 -->
<rect x="23.6" y="34.5" width="215.6" height="123.2" rx="16" fill="#f9bec2" stroke="#e60a14" stroke-width="3.4"/>
<!-- BOX 7 -->
<rect x="2.6" y="181.5" width="126.4" height="124.5" rx="15" fill="#f9bec2" stroke="#e60a14" stroke-width="3.4"/>
<g filter="url(#sh)"><path d="M35 42.5 C30 43 28.5 49 33 52.5 L45 59.5 L51 47 Z" fill="#7a7a7a" stroke="#000" stroke-width="2.6" stroke-linejoin="round"/>
<path d="M36 46 L46 49" stroke="#bbb" stroke-width="1.2"/>
<ellipse cx="51.00" cy="56.50" rx="8.5" ry="10.8" transform="rotate(-25 51.00 56.50)" fill="#000" stroke="#000" stroke-width="2.4"/>
<ellipse cx="51.60" cy="56.80" rx="8.5" ry="10.8" transform="rotate(-25 51.60 56.80)" fill="#000" stroke="#000" stroke-width="2.4"/>
<ellipse cx="52.20" cy="57.10" rx="8.5" ry="10.8" transform="rotate(-25 52.20 57.10)" fill="#000" stroke="#000" stroke-width="2.4"/>
<ellipse cx="52.80" cy="57.40" rx="8.5" ry="10.8" transform="rotate(-25 52.80 57.40)" fill="#000" stroke="#000" stroke-width="2.4"/>
<ellipse cx="53.40" cy="57.70" rx="8.5" ry="10.8" transform="rotate(-25 53.40 57.70)" fill="#000" stroke="#000" stroke-width="2.4"/>
<ellipse cx="54.00" cy="58.00" rx="8.5" ry="10.8" transform="rotate(-25 54.00 58.00)" fill="#000" stroke="#000" stroke-width="2.4"/>
<ellipse cx="51.00" cy="56.50" rx="8.5" ry="10.8" transform="rotate(-25 51.00 56.50)" fill="#1a1a1a"/>
<ellipse cx="51.60" cy="56.80" rx="8.5" ry="10.8" transform="rotate(-25 51.60 56.80)" fill="#1a1a1a"/>
<ellipse cx="52.20" cy="57.10" rx="8.5" ry="10.8" transform="rotate(-25 52.20 57.10)" fill="#1a1a1a"/>
<ellipse cx="52.80" cy="57.40" rx="8.5" ry="10.8" transform="rotate(-25 52.80 57.40)" fill="#1a1a1a"/>
<ellipse cx="53.40" cy="57.70" rx="8.5" ry="10.8" transform="rotate(-25 53.40 57.70)" fill="#1a1a1a"/>
<ellipse cx="54.00" cy="58.00" rx="8.5" ry="10.8" transform="rotate(-25 54.00 58.00)" fill="#1a1a1a"/>
<ellipse cx="54" cy="58" rx="8.5" ry="10.8" transform="rotate(-25 54 58)" fill="#1a1a1a" stroke="#000" stroke-width="1.5" />
<ellipse cx="54.8" cy="58.6" rx="5.6" ry="7.2" transform="rotate(-25 54.8 58.6)" fill="#2a2a2a" stroke="#e8e8e8" stroke-width="1.4" />
<ellipse cx="55.2" cy="58.8" rx="2.3" ry="3.1" transform="rotate(-25 55.2 58.8)" fill="#111" stroke="#ccc" stroke-width="0.8" />
<ellipse cx="68.50" cy="67.00" rx="9" ry="10" transform="rotate(-25 68.50 67.00)" fill="#000" stroke="#000" stroke-width="2.0"/>
<ellipse cx="69.12" cy="67.25" rx="9" ry="10" transform="rotate(-25 69.12 67.25)" fill="#000" stroke="#000" stroke-width="2.0"/>
<ellipse cx="69.75" cy="67.50" rx="9" ry="10" transform="rotate(-25 69.75 67.50)" fill="#000" stroke="#000" stroke-width="2.0"/>
<ellipse cx="70.38" cy="67.75" rx="9" ry="10" transform="rotate(-25 70.38 67.75)" fill="#000" stroke="#000" stroke-width="2.0"/>
<ellipse cx="71.00" cy="68.00" rx="9" ry="10" transform="rotate(-25 71.00 68.00)" fill="#000" stroke="#000" stroke-width="2.0"/>
<ellipse cx="68.50" cy="67.00" rx="9" ry="10" transform="rotate(-25 68.50 67.00)" fill="#1a1a1a"/>
<ellipse cx="69.12" cy="67.25" rx="9" ry="10" transform="rotate(-25 69.12 67.25)" fill="#1a1a1a"/>
<ellipse cx="69.75" cy="67.50" rx="9" ry="10" transform="rotate(-25 69.75 67.50)" fill="#1a1a1a"/>
<ellipse cx="70.38" cy="67.75" rx="9" ry="10" transform="rotate(-25 70.38 67.75)" fill="#1a1a1a"/>
<ellipse cx="71.00" cy="68.00" rx="9" ry="10" transform="rotate(-25 71.00 68.00)" fill="#1a1a1a"/>
<ellipse cx="71" cy="68" rx="9" ry="10" transform="rotate(-25 71 68)" fill="#1a1a1a" stroke="#000" stroke-width="1.5" />
<ellipse cx="71.5" cy="68" rx="5.58" ry="6.2" transform="rotate(-25 71.5 68)" fill="#3a3a3a" stroke="#dcdcdc" stroke-width="1.1" />
<ellipse cx="71.8" cy="68.3" rx="2.6999999999999997" ry="3.5" transform="rotate(-25 71.8 68.3)" fill="#101010" stroke="none" stroke-width="0" />
<path d="M79 72 L84 75" stroke="#000" stroke-width="1.5"/>
<path d="M86 78 L110 92" stroke="#000" stroke-width="9" stroke-linecap="round"/>
<path d="M86 78 L110 92" stroke="#7a7a7a" stroke-width="4.5" stroke-linecap="round"/>
<ellipse cx="114.5" cy="95" rx="4.5" ry="6.5" transform="rotate(-30 114.5 95)" fill="#444" stroke="#000" stroke-width="2" />
<path d="M117 97 L124 101.5" stroke="#000" stroke-width="6" stroke-linecap="round"/>
<path d="M117.5 97.3 L123 100.5" stroke="#888" stroke-width="2" stroke-linecap="round"/>
<ellipse cx="180.0" cy="115.5" rx="4.2" ry="3.3" transform="rotate(0 180.0 115.5)" fill="#000"/>
<ellipse cx="179.0" cy="123.1" rx="4.2" ry="3.3" transform="rotate(15 179.0 123.1)" fill="#000"/>
<ellipse cx="176.2" cy="130.2" rx="4.2" ry="3.3" transform="rotate(30 176.2 130.2)" fill="#000"/>
<ellipse cx="171.7" cy="136.4" rx="4.2" ry="3.3" transform="rotate(45 171.7 136.4)" fill="#000"/>
<ellipse cx="165.8" cy="141.0" rx="4.2" ry="3.3" transform="rotate(60 165.8 141.0)" fill="#000"/>
<ellipse cx="158.9" cy="144.0" rx="4.2" ry="3.3" transform="rotate(75 158.9 144.0)" fill="#000"/>
<ellipse cx="151.5" cy="145.0" rx="4.2" ry="3.3" transform="rotate(90 151.5 145.0)" fill="#000"/>
<ellipse cx="144.1" cy="144.0" rx="4.2" ry="3.3" transform="rotate(105 144.1 144.0)" fill="#000"/>
<ellipse cx="137.2" cy="141.0" rx="4.2" ry="3.3" transform="rotate(120 137.2 141.0)" fill="#000"/>
<ellipse cx="131.3" cy="136.4" rx="4.2" ry="3.3" transform="rotate(135 131.3 136.4)" fill="#000"/>
<ellipse cx="126.8" cy="130.2" rx="4.2" ry="3.3" transform="rotate(150 126.8 130.2)" fill="#000"/>
<ellipse cx="124.0" cy="123.1" rx="4.2" ry="3.3" transform="rotate(165 124.0 123.1)" fill="#000"/>
<ellipse cx="123.0" cy="115.5" rx="4.2" ry="3.3" transform="rotate(180 123.0 115.5)" fill="#000"/>
<ellipse cx="124.0" cy="107.9" rx="4.2" ry="3.3" transform="rotate(195 124.0 107.9)" fill="#000"/>
<ellipse cx="126.8" cy="100.8" rx="4.2" ry="3.3" transform="rotate(210 126.8 100.8)" fill="#000"/>
<ellipse cx="131.3" cy="94.6" rx="4.2" ry="3.3" transform="rotate(225 131.3 94.6)" fill="#000"/>
<ellipse cx="137.2" cy="90.0" rx="4.2" ry="3.3" transform="rotate(240 137.2 90.0)" fill="#000"/>
<ellipse cx="144.1" cy="87.0" rx="4.2" ry="3.3" transform="rotate(255 144.1 87.0)" fill="#000"/>
<ellipse cx="151.5" cy="86.0" rx="4.2" ry="3.3" transform="rotate(270 151.5 86.0)" fill="#000"/>
<ellipse cx="158.9" cy="87.0" rx="4.2" ry="3.3" transform="rotate(285 158.9 87.0)" fill="#000"/>
<ellipse cx="165.8" cy="90.0" rx="4.2" ry="3.3" transform="rotate(300 165.8 90.0)" fill="#000"/>
<ellipse cx="171.7" cy="94.6" rx="4.2" ry="3.3" transform="rotate(315 171.7 94.6)" fill="#000"/>
<ellipse cx="176.2" cy="100.7" rx="4.2" ry="3.3" transform="rotate(330 176.2 100.7)" fill="#000"/>
<ellipse cx="179.0" cy="107.9" rx="4.2" ry="3.3" transform="rotate(345 179.0 107.9)" fill="#000"/>
<ellipse cx="151.5" cy="115.5" rx="28.5" ry="29.5" transform="rotate(0 151.5 115.5)" fill="#0a0a0a" stroke="#000" stroke-width="1" />
<path d="M173.8 118.6 L178.3 119.2" stroke="#f4e4e6" stroke-width="1.3" stroke-linecap="round"/>
<path d="M172.3 124.5 L176.4 126.2" stroke="#f4e4e6" stroke-width="1.3" stroke-linecap="round"/>
<path d="M169.4 129.8 L172.9 132.5" stroke="#f4e4e6" stroke-width="1.3" stroke-linecap="round"/>
<path d="M165.2 134.1 L167.9 137.7" stroke="#f4e4e6" stroke-width="1.3" stroke-linecap="round"/>
<path d="M160.1 137.2 L161.8 141.4" stroke="#f4e4e6" stroke-width="1.3" stroke-linecap="round"/>
<path d="M154.4 138.8 L155.0 143.3" stroke="#f4e4e6" stroke-width="1.3" stroke-linecap="round"/>
<path d="M148.6 138.8 L148.0 143.3" stroke="#f4e4e6" stroke-width="1.3" stroke-linecap="round"/>
<path d="M142.9 137.2 L141.2 141.4" stroke="#f4e4e6" stroke-width="1.3" stroke-linecap="round"/>
<path d="M137.8 134.1 L135.1 137.7" stroke="#f4e4e6" stroke-width="1.3" stroke-linecap="round"/>
<path d="M133.6 129.8 L130.1 132.5" stroke="#f4e4e6" stroke-width="1.3" stroke-linecap="round"/>
<path d="M130.7 124.5 L126.6 126.2" stroke="#f4e4e6" stroke-width="1.3" stroke-linecap="round"/>
<path d="M129.2 118.6 L124.7 119.2" stroke="#f4e4e6" stroke-width="1.3" stroke-linecap="round"/>
<path d="M129.2 112.4 L124.7 111.8" stroke="#f4e4e6" stroke-width="1.3" stroke-linecap="round"/>
<path d="M130.7 106.5 L126.6 104.8" stroke="#f4e4e6" stroke-width="1.3" stroke-linecap="round"/>
<path d="M133.6 101.2 L130.1 98.5" stroke="#f4e4e6" stroke-width="1.3" stroke-linecap="round"/>
<path d="M137.8 96.9 L135.1 93.3" stroke="#f4e4e6" stroke-width="1.3" stroke-linecap="round"/>
<path d="M142.9 93.8 L141.2 89.6" stroke="#f4e4e6" stroke-width="1.3" stroke-linecap="round"/>
<path d="M148.6 92.2 L148.0 87.7" stroke="#f4e4e6" stroke-width="1.3" stroke-linecap="round"/>
<path d="M154.4 92.2 L155.0 87.7" stroke="#f4e4e6" stroke-width="1.3" stroke-linecap="round"/>
<path d="M160.1 93.8 L161.8 89.6" stroke="#f4e4e6" stroke-width="1.3" stroke-linecap="round"/>
<path d="M165.2 96.9 L167.9 93.3" stroke="#f4e4e6" stroke-width="1.3" stroke-linecap="round"/>
<path d="M169.4 101.2 L172.9 98.5" stroke="#f4e4e6" stroke-width="1.3" stroke-linecap="round"/>
<path d="M172.3 106.5 L176.4 104.8" stroke="#f4e4e6" stroke-width="1.3" stroke-linecap="round"/>
<path d="M173.8 112.4 L178.3 111.8" stroke="#f4e4e6" stroke-width="1.3" stroke-linecap="round"/>
<ellipse cx="153.5" cy="119.5" rx="21" ry="26" transform="rotate(0 153.5 119.5)" fill="#000" stroke="none" stroke-width="0" />
<ellipse cx="156.5" cy="118.5" rx="18.5" ry="25" transform="rotate(8 156.5 118.5)" fill="#7a7a7a" stroke="#000" stroke-width="1.6" />
<ellipse cx="164.5" cy="123.5" rx="14" ry="19" transform="rotate(8 164.5 123.5)" fill="#111" stroke="#000" stroke-width="1.5" />
<ellipse cx="166.5" cy="124.5" rx="8" ry="10.5" transform="rotate(8 166.5 124.5)" fill="#222" stroke="#e8e8e8" stroke-width="1.6" />
<ellipse cx="167.0" cy="125.0" rx="3.5" ry="4.5" transform="rotate(8 167.0 125.0)" fill="#111" stroke="#bbb" stroke-width="1" />
<path d="M158 106 L164 102 M170 103 L175 106 M155 135 L151 140 M178 122 L183 126 M160 122 L157 128 M169 140 L174 143" stroke="#e8e8e8" stroke-width="1.6" stroke-linecap="round"/>
<path d="M177 134 L185 139" stroke="#000" stroke-width="1.4"/>
<ellipse cx="189.00" cy="141.00" rx="8" ry="10" transform="rotate(-20 189.00 141.00)" fill="#000" stroke="#000" stroke-width="2.0"/>
<ellipse cx="189.62" cy="141.25" rx="8" ry="10" transform="rotate(-20 189.62 141.25)" fill="#000" stroke="#000" stroke-width="2.0"/>
<ellipse cx="190.25" cy="141.50" rx="8" ry="10" transform="rotate(-20 190.25 141.50)" fill="#000" stroke="#000" stroke-width="2.0"/>
<ellipse cx="190.88" cy="141.75" rx="8" ry="10" transform="rotate(-20 190.88 141.75)" fill="#000" stroke="#000" stroke-width="2.0"/>
<ellipse cx="191.50" cy="142.00" rx="8" ry="10" transform="rotate(-20 191.50 142.00)" fill="#000" stroke="#000" stroke-width="2.0"/>
<ellipse cx="189.00" cy="141.00" rx="8" ry="10" transform="rotate(-20 189.00 141.00)" fill="#1a1a1a"/>
<ellipse cx="189.62" cy="141.25" rx="8" ry="10" transform="rotate(-20 189.62 141.25)" fill="#1a1a1a"/>
<ellipse cx="190.25" cy="141.50" rx="8" ry="10" transform="rotate(-20 190.25 141.50)" fill="#1a1a1a"/>
<ellipse cx="190.88" cy="141.75" rx="8" ry="10" transform="rotate(-20 190.88 141.75)" fill="#1a1a1a"/>
<ellipse cx="191.50" cy="142.00" rx="8" ry="10" transform="rotate(-20 191.50 142.00)" fill="#1a1a1a"/>
<ellipse cx="191.5" cy="142" rx="8" ry="10" transform="rotate(-20 191.5 142)" fill="#1a1a1a" stroke="#000" stroke-width="1.5" />
<ellipse cx="192.0" cy="142" rx="4.96" ry="6.2" transform="rotate(-20 192.0 142)" fill="#3a3a3a" stroke="#dcdcdc" stroke-width="1.1" />
<ellipse cx="192.3" cy="142.3" rx="2.4" ry="3.5" transform="rotate(-20 192.3 142.3)" fill="#101010" stroke="none" stroke-width="0" />
<ellipse cx="73" cy="197" rx="11.5" ry="6.6" transform="rotate(0 73 197)" fill="#666" stroke="#000" stroke-width="2.6" />
<ellipse cx="72.5" cy="196.5" rx="4.5" ry="2.2" transform="rotate(0 72.5 196.5)" fill="#000" stroke="none" stroke-width="0" />
<path d="M69 187 L72 191" stroke="#000" stroke-width="1.3"/>
<path d="M25 207.5 C28 204 36 204 41 206 L58 215 C59 217 58 218.5 56 218 L50 217 C52 219 52 222 50 223 C47 222 44 219 43 218 L34 212.5 C30 211 26 211 25 207.5 Z" fill="#111" stroke="#000" stroke-width="1.6" stroke-linejoin="round"/>
<path d="M31 207.5 L39 209 L46 213" stroke="#f9bec2" stroke-width="1.2" fill="none"/>
<path d="M68 213 L77.5 217.5 L78.5 270 C79 274 81 275 85 275.5 L113 278 C116 278.5 117 281 116.5 284 C116 287 114 288 111 288 L80 287 C73 286.5 68 282 67.5 276 Z" fill="#7c7c7c" stroke="#000" stroke-width="2.4" stroke-linejoin="round"/>
<path d="M72.5 220 L73 270 C73.5 279 77 281.5 84 281.5 L106 282.5" stroke="#b8b8b8" stroke-width="1.5" fill="none"/>
<path d="M66 262 L68 270" stroke="#000" stroke-width="3"/>
<ellipse cx="109.5" cy="283" rx="3.2" ry="3.6" transform="rotate(0 109.5 283)" fill="#aaa" stroke="#000" stroke-width="1.2" /></g><!-- leader lines -->
<g stroke="#111" stroke-width="1.3" fill="none">
<path d="M241 71.5 L280 66"/>
<path d="M68 308 L76 350"/>
<path d="M158 210 L183 202"/>
<path d="M622 305 L654 327"/>
<path d="M589 337 L619 347"/>
<path d="M617 468 L638 484"/>
<path d="M222 497 L270 521"/>
<path d="M179 519 L234 543"/>
<path d="M491 497 C502 508 516 522 528 536"/>
</g>
<g>
<text x="279" y="75">5</text>
<text x="65" y="368">7</text>
<text x="140" y="220">6</text>
<text x="602" y="311">4</text>
<text x="572" y="342.5">3</text>
<text x="640" y="498">2</text>
<text x="203" y="503">3</text>
<text x="160" y="526">4</text>
<text x="526" y="548">1</text>
</g>

</svg>
</body></html>
